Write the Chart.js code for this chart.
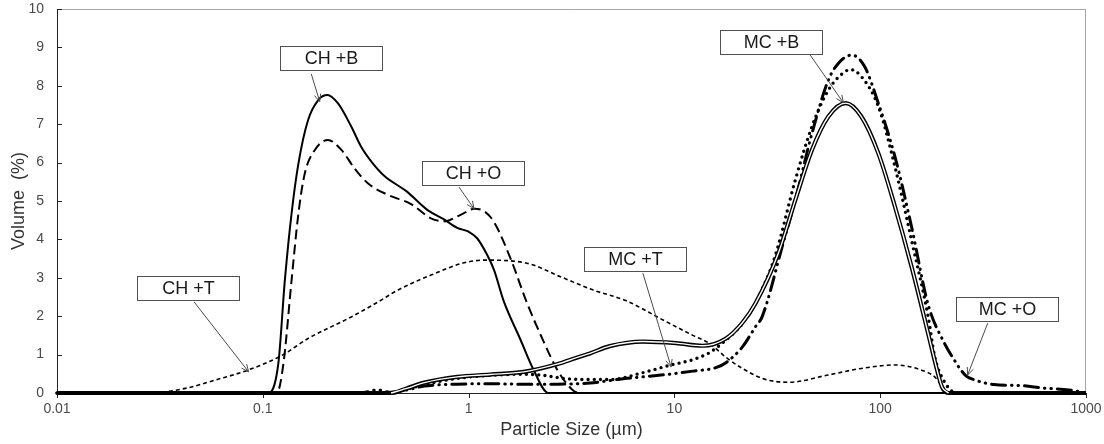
<!DOCTYPE html>
<html><head><meta charset="utf-8">
<script src="https://cdn.jsdelivr.net/npm/chart.js@4/dist/chart.umd.min.js"></script>
<style>html,body{margin:0;padding:0;background:#fff}</style>
</head><body>
<canvas id="c" width="1104" height="444"></canvas>
<script>
// ---- axis ticks ----
const xTickValues = [0.01, 0.1, 1, 10, 100, 1000];
const xTickLabels = ['0.01', '0.1', '1', '10', '100', '1000'];
const yTickValues = [0, 1, 2, 3, 4, 5, 6, 7, 8, 9, 10];

// ---- series (particle size in µm, volume in %) ----
const chbSize = [0.01, 0.1066, 0.119, 0.128, 0.138, 0.149, 0.166, 0.186, 0.206, 0.232, 0.269, 0.3, 0.34, 0.39, 0.5, 0.63, 0.76, 0.88, 1.0, 1.1, 1.23, 1.33, 1.48, 1.79, 2.07, 2.44, 1000];
const chbVol  = [0, 0, 0.77, 2.94, 4.68, 5.98, 7.11, 7.63, 7.76, 7.54, 6.94, 6.42, 6.0, 5.65, 5.25, 4.77, 4.52, 4.3, 4.2, 4.03, 3.6, 3.2, 2.4, 1.38, 0.6, 0, 0];

const choSize = [0.01, 0.117, 0.126, 0.138, 0.149, 0.16, 0.179, 0.207, 0.241, 0.279, 0.324, 0.405, 0.525, 0.656, 0.76, 0.914, 1.07, 1.2, 1.33, 1.6, 1.92, 2.31, 2.7, 3.2, 3.5, 1000];
const choVol  = [0, 0, 0.77, 2.94, 4.68, 5.72, 6.33, 6.59, 6.33, 5.85, 5.46, 5.16, 4.92, 4.55, 4.47, 4.64, 4.8, 4.72, 4.45, 3.5, 2.35, 1.35, 0.6, 0.08, 0, 0];

const chtSize = [0.01, 0.028, 0.042, 0.059, 0.085, 0.124, 0.166, 0.26, 0.31, 0.376, 0.453, 0.656, 0.95, 1.2, 1.92, 2.79, 4.04, 5.85, 8.47, 12.3, 14.8, 17.8, 21.4, 26.7, 31, 36, 56, 81, 118, 158, 184, 205, 220, 1000];
const chtVol  = [0, 0, 0.12, 0.34, 0.6, 0.98, 1.42, 1.94, 2.16, 2.42, 2.68, 3.07, 3.39, 3.46, 3.38, 3.03, 2.68, 2.4, 1.95, 1.5, 1.29, 0.93, 0.64, 0.38, 0.3, 0.28, 0.47, 0.64, 0.73, 0.6, 0.42, 0.1, 0, 0];

const mcbSize = [0.01, 0.42, 0.5, 0.61, 0.88, 1.27, 1.85, 2.69, 3.35, 3.89, 4.85, 7.03, 10.2, 13.7, 17.8, 21.4, 24.8, 32, 38.7, 46.6, 56, 68, 81, 98, 118, 142, 171, 190, 200, 215, 1000];
const mcbVol  = [0, 0, 0.12, 0.27, 0.42, 0.48, 0.55, 0.75, 0.92, 1.03, 1.22, 1.34, 1.3, 1.23, 1.42, 1.83, 2.34, 3.64, 5.03, 6.33, 7.2, 7.55, 7.2, 6.24, 4.85, 3.29, 1.55, 0.55, 0.15, 0, 0];

const mctSize = [0.01, 0.42, 0.5, 0.61, 0.88, 1.27, 1.85, 2.31, 2.89, 3.89, 4.85, 7.03, 9.46, 12.3, 14.8, 17.8, 21.4, 26.7, 31, 38.7, 46.6, 56, 67.5, 72, 81, 98, 118, 142, 171, 184, 200, 235, 1000];
const mctVol  = [0, 0, 0.1, 0.22, 0.38, 0.46, 0.49, 0.46, 0.38, 0.35, 0.35, 0.53, 0.72, 0.87, 1.05, 1.38, 1.81, 2.7, 3.6, 5.55, 6.94, 7.89, 8.37, 8.42, 8.24, 7.46, 5.89, 3.98, 1.99, 0.95, 0.4, 0, 0];

const mcoSize = [0.01, 0.3, 0.36, 0.42, 0.5, 0.61, 0.88, 1.27, 1.85, 2.69, 3.89, 5.43, 7, 9.46, 12.3, 15.9, 17.8, 21.4, 24.8, 26.7, 33.4, 38.7, 46.6, 56, 62.7, 72.8, 84, 98, 118, 142, 171, 205, 229, 245, 262, 288, 357, 490, 617, 750, 900, 1000];
const mcoVol  = [0, 0, 0.08, 0.02, 0.08, 0.18, 0.23, 0.24, 0.23, 0.23, 0.26, 0.36, 0.42, 0.49, 0.57, 0.66, 0.79, 1.2, 1.73, 1.99, 3.81, 5.03, 6.76, 8.15, 8.59, 8.8, 8.5, 7.54, 6.15, 4.33, 2.3, 1.3, 0.86, 0.62, 0.44, 0.34, 0.22, 0.19, 0.13, 0.1, 0.05, 0];

// ---- text annotations (data coordinates) ----
const labelTexts = ['CH +B', 'CH +T', 'CH +O', 'MC +T', 'MC +B', 'MC +O'];
const annotations = [
  { text: labelTexts[0], box: [0.215, 8.72], tail: [0.172, 8.31], head: [0.189, 7.59] },
  { text: labelTexts[1], box: [0.0434, 2.73], tail: [0.0464, 2.37], head: [0.0853, 0.55] },
  { text: labelTexts[2], box: [1.054, 5.74], tail: [0.899, 5.36], head: [1.062, 4.8] },
  { text: labelTexts[3], box: [6.41, 3.48], tail: [7.03, 3.12], head: [9.64, 0.68] },
  { text: labelTexts[4], box: [29.6, 9.14], tail: [45.7, 8.8], head: [66.2, 7.56] },
  { text: labelTexts[5], box: [414, 2.18], tail: [333, 1.82], head: [266, 0.47] }
];

const pts = (xs, ys) => xs.map((x, i) => ({ x: x, y: ys[i] }));
const innerPts = (xs, ys) => xs.map((x, i) => ({ x: x, y: ys[i] }))
  .filter((p, i) => ys[i] > 0 || (ys[i - 1] > 0) || (ys[i + 1] > 0));

const FONT = "'Liberation Sans', Arial, sans-serif";
Chart.defaults.font.family = FONT;

const base = { pointRadius: 0, pointHoverRadius: 0, fill: false, cubicInterpolationMode: 'monotone', clip: false, order: 2 };

const framePlugin = {
  id: 'frame',
  beforeDatasetsDraw(chart) {
    const { ctx, chartArea: a } = chart;
    const xs = chart.scales.x, ys = chart.scales.y;
    ctx.save();
    ctx.lineWidth = 1;
    ctx.strokeStyle = '#a6a6a6';
    ctx.beginPath();
    ctx.moveTo(a.left, a.top + 0.5); ctx.lineTo(a.right - 0.5, a.top + 0.5); ctx.lineTo(a.right - 0.5, a.bottom);
    ctx.stroke();
    ctx.strokeStyle = '#222';
    ctx.beginPath();
    ctx.moveTo(a.left + 0.5, a.top); ctx.lineTo(a.left + 0.5, a.bottom + 0.5); ctx.lineTo(a.right, a.bottom + 0.5);
    yTickValues.forEach(v => { const p = Math.round(ys.getPixelForValue(v)) + 0.5; ctx.moveTo(a.left, p); ctx.lineTo(a.left + 5, p); });
    xTickValues.forEach(v => { const p = Math.round(xs.getPixelForValue(v)) + 0.5; ctx.moveTo(p, a.bottom); ctx.lineTo(p, a.bottom + 5); });
    ctx.stroke();
    ctx.restore();
  }
};

const annotPlugin = {
  id: 'annot',
  afterDatasetsDraw(chart) {
    const { ctx } = chart;
    const xs = chart.scales.x, ys = chart.scales.y;
    ctx.save();
    annotations.forEach(a => {
      const bx = xs.getPixelForValue(a.box[0]), by = ys.getPixelForValue(a.box[1]);
      const tx = xs.getPixelForValue(a.tail[0]), ty = ys.getPixelForValue(a.tail[1]);
      const hx = xs.getPixelForValue(a.head[0]), hy = ys.getPixelForValue(a.head[1]);
      ctx.strokeStyle = '#4a4a4a'; ctx.lineWidth = 1;
      ctx.beginPath(); ctx.moveTo(tx, ty); ctx.lineTo(hx, hy); ctx.stroke();
      const ang = Math.atan2(hy - ty, hx - tx), L = 8, w = 0.42;
      ctx.beginPath();
      ctx.moveTo(hx - L * Math.cos(ang - w), hy - L * Math.sin(ang - w));
      ctx.lineTo(hx, hy);
      ctx.lineTo(hx - L * Math.cos(ang + w), hy - L * Math.sin(ang + w));
      ctx.stroke();
      const W = 102, H = 24;
      const x0 = Math.round(bx - W / 2) + 0.5, y0 = Math.round(by - H / 2) + 0.5;
      ctx.fillStyle = '#fff'; ctx.fillRect(x0, y0, W, H);
      ctx.strokeStyle = '#505050'; ctx.strokeRect(x0, y0, W, H);
      ctx.fillStyle = '#1a1a1a';
      ctx.font = '18px ' + FONT;
      ctx.textAlign = 'center'; ctx.textBaseline = 'middle';
      ctx.fillText(a.text, x0 + W / 2, y0 + H / 2 + 1);
    });
    ctx.restore();
  }
};

new Chart(document.getElementById('c'), {
  type: 'line',
  data: {
    datasets: [
      Object.assign({}, base, { label: 'CH +B', data: pts(chbSize, chbVol), borderColor: '#000', borderWidth: 2 }),
      Object.assign({}, base, { label: 'CH +O', data: pts(choSize, choVol), borderColor: '#000', borderWidth: 2, borderDash: [10, 5] }),
      Object.assign({}, base, { label: 'CH +T', data: pts(chtSize, chtVol), borderColor: '#000', borderWidth: 1.6, borderDash: [4, 3] }),
      Object.assign({}, base, { label: 'MC +B', data: pts(mcbSize, mcbVol), borderColor: '#000', borderWidth: 4.2, order: 1 }),
      Object.assign({}, base, { label: 'MC +B inner', data: innerPts(mcbSize, mcbVol), borderColor: '#fff', borderWidth: 1.4, order: 0 }),
      Object.assign({}, base, { label: 'MC +T', data: pts(mctSize, mctVol), borderColor: '#000', borderWidth: 3.4, borderDash: [0, 6.2], borderCapStyle: 'round' }),
      Object.assign({}, base, { label: 'MC +O', data: pts(mcoSize, mcoVol), borderColor: '#000', borderWidth: 3, borderDash: [14, 6, 0.5, 6, 0.5, 6], borderCapStyle: 'round' })
    ]
  },
  options: {
    responsive: false,
    animation: false,
    events: [],
    layout: { padding: { top: 9, right: 18, left: 0, bottom: 0 } },
    plugins: { legend: { display: false }, tooltip: { enabled: false } },
    scales: {
      x: {
        type: 'logarithmic', min: 0.01, max: 1000,
        afterBuildTicks: s => { s.ticks = xTickValues.map(v => ({ value: v })); },
        afterFit: s => { s.height = 51; s.paddingLeft = 0; s.paddingRight = 0; },
        grid: { display: false, drawTicks: false },
        border: { display: false },
        ticks: { autoSkip: false, maxRotation: 0, padding: 8, color: '#4a4a4a', font: { size: 14 },
          callback: (v, i) => xTickLabels[i] },
        title: { display: true, text: 'Particle Size (µm)', color: '#333', font: { size: 18 }, padding: { top: 0, bottom: 3 } }
      },
      y: {
        min: 0, max: 10,
        afterBuildTicks: s => { s.ticks = yTickValues.map(v => ({ value: v })); },
        afterFit: s => { s.width = 57; s.paddingTop = 0; s.paddingBottom = 0; },
        grid: { display: false, drawTicks: false },
        border: { display: false },
        ticks: { padding: 13, color: '#4a4a4a', font: { size: 14 } },
        title: { display: true, text: 'Volume  (%)', color: '#333', font: { size: 18 }, padding: { top: 8, bottom: 0 } }
      }
    }
  },
  plugins: [framePlugin, annotPlugin]
});
</script>
</body></html>
